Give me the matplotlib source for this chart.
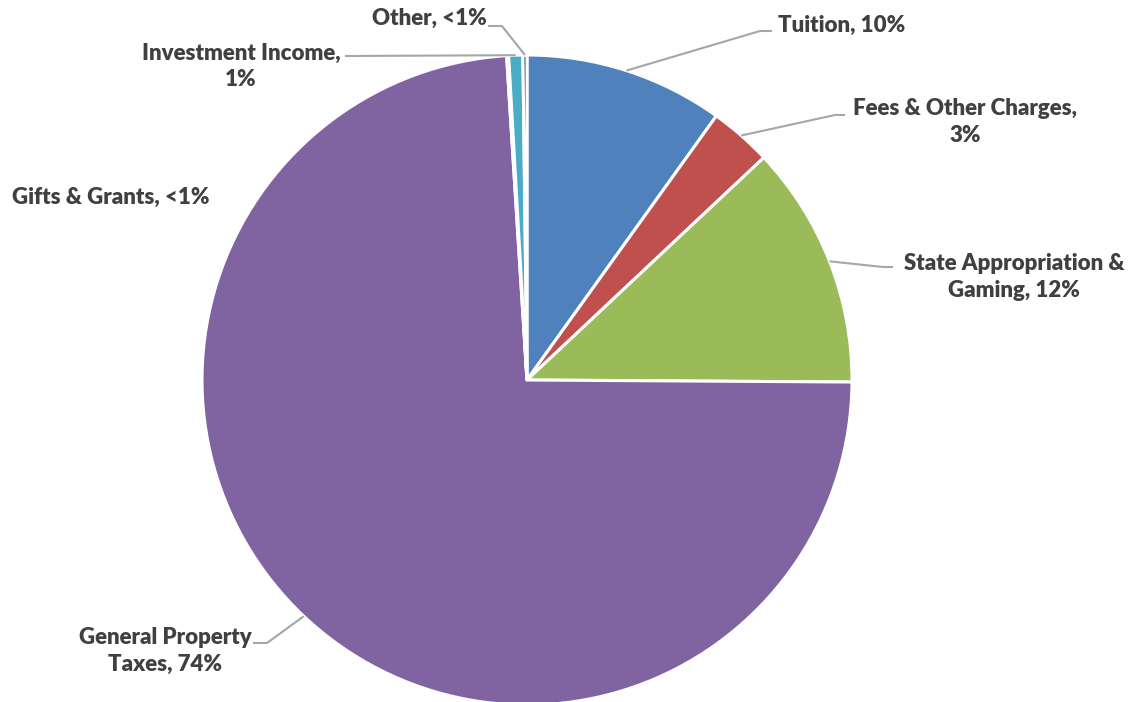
import numpy as np
import matplotlib.pyplot as plt

# revenue sources, share of total (%)
names = ['Tuition', 'Fees & Other Charges', 'State Appropriation &\nGaming',
         'General Property\nTaxes', 'Gifts & Grants', 'Investment Income', 'Other']
shares = [9.9, 3.1, 12.1, 73.9, 0.1, 0.7, 0.2]
colors = ['#4F81BD', '#C0504D', '#9BBB59', '#8064A2', '#F79646', '#4BACC6', '#1F3864']
breaks = [' ', '\n', ' ', ' ', ' ', '\n', ' ']

W, H = 1130, 702


def pct_text(v):
    return '<1%' if v < 0.5 else f'{round(v)}%'


labels = [f'{n},{b}{pct_text(v)}' for n, b, v in zip(names, breaks, shares)]

# label placement in pixel coords (from top-left): text xy, ha, leader elbow points
layout = [
    ((778, 25), 'left', [(760, 31), (772, 31)]),
    ((965, 122), 'center', [(835, 115), (845, 115)]),
    ((1014, 277), 'center', [(883, 267), (893, 267)]),
    ((165, 651), 'center', [(267, 643), (253, 643)]),
    ((12, 197), 'left', None),
    ((241, 66), 'center', [(345, 56)]),
    ((372, 18), 'left', [(502, 26), (488, 26)]),
]

fig = plt.figure(figsize=(W / 100, H / 100), dpi=100)
ax = fig.add_axes([0, 0, 1, 1])

cx, cy, R = 527, 380, 325
wedges, _ = ax.pie(shares, colors=colors, startangle=90, counterclock=False,
                   center=(cx, H - cy), radius=R, frame=True,
                   wedgeprops=dict(edgecolor='white', linewidth=2.2))
ax.set_xlim(0, W)
ax.set_ylim(0, H)
ax.axis('off')

for w, lab, (txy, ha, elbow) in zip(wedges, labels, layout):
    ax.text(txy[0], H - txy[1], lab, ha=ha, va='center', multialignment='center',
            fontsize=16, fontweight='heavy', color='#404040', family='Lato',
            linespacing=1.3)
    if elbow is None:
        continue
    mid = np.deg2rad((w.theta1 + w.theta2) / 2)
    px = [cx + R * np.cos(mid)] + [p[0] for p in elbow]
    py = [H - cy + R * np.sin(mid)] + [H - p[1] for p in elbow]
    ax.plot(px, py, color='#A6A6A6', lw=1.5, solid_capstyle='butt')

fig.savefig('out.png', dpi=100, facecolor='white')
